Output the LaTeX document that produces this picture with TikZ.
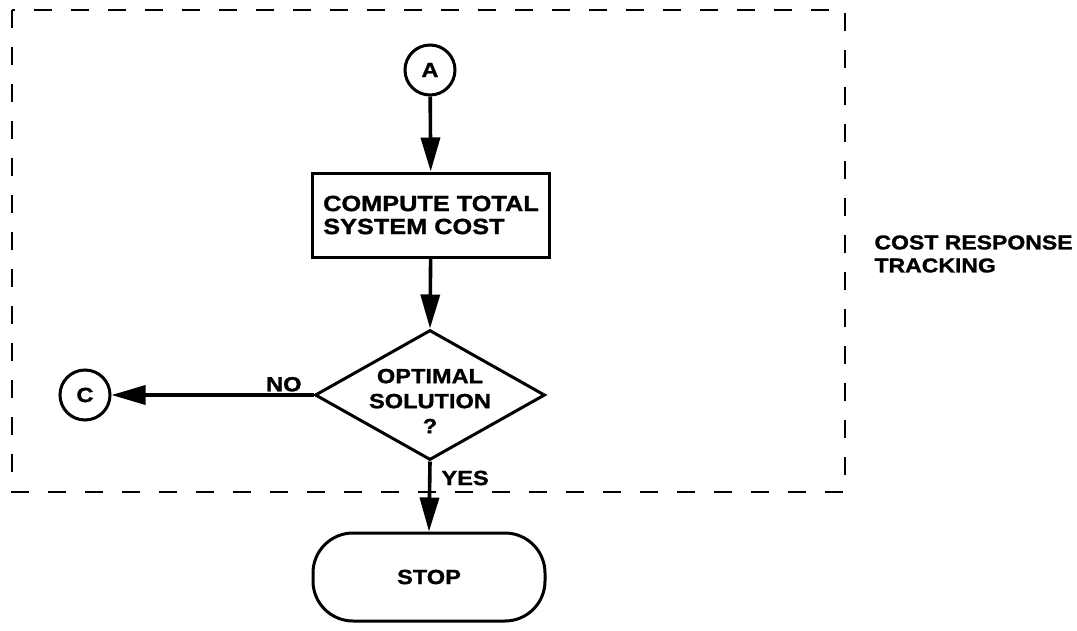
\documentclass[tikz,border=0pt]{standalone}
\usepackage{fontspec}
\setmainfont{Liberation Sans}[FakeStretch=1.15,BoldFeatures={FakeBold=1.3}]
\usetikzlibrary{arrows.meta,shapes.geometric}
\newcommand{\txtsize}[1]{\fontsize{#1}{#1}\selectfont\bfseries}
\begin{document}
\begin{tikzpicture}[x=1pt,y=-1pt,
  font=\txtsize{20.5},
  line width=3pt,
  connector/.style={line width=3.6pt,-{Triangle[length=34pt,width=19pt]}},
  link/.style={circle,draw,minimum size=50pt,inner sep=0pt},
  process/.style={rectangle,draw,minimum width=237pt,minimum height=84pt,align=left,inner sep=0pt,
    font=\txtsize{22},execute at begin node=\setlength{\baselineskip}{23pt}},
  decision/.style={diamond,draw,minimum width=230pt,minimum height=130pt,inner sep=0pt},
  terminal/.style={rectangle,draw,rounded corners=40pt,minimum width=232pt,minimum height=88pt,inner sep=0pt},
  label/.style={inner sep=0pt,align=left}]
\useasboundingbox (0,0) rectangle (1077,630);

% boundary of the cost response tracking block
\draw[line width=2.4pt,dash pattern=on 18pt off 19pt] (12,10) rectangle (845,492);
\node[label,anchor=west,font=\txtsize{20},execute at begin node=\setlength{\baselineskip}{23pt}]
  (block) at (873,254) {COST RESPONSE\\TRACKING};

% flow
\node[link] (a) at (430,70) {A};
\node[process] (cost) at (431,215) {COMPUTE TOTAL\\SYSTEM COST};
\node[decision] (opt) at (430,395) {};
\node[label,align=center,execute at begin node=\setlength{\baselineskip}{25pt}]
  (optq) at (430,401) {OPTIMAL\\SOLUTION\\?};
\node[link] (c) at (85,395) {C};
\node[terminal] (stop) at (429,577) {STOP};

\draw[connector] (a) -- (cost);
\draw[connector] (cost) -- (opt.north);
\draw[connector] (opt.west) -- (c);
\draw[connector] (opt.south) -- (stop.north);

\node[label,anchor=south east] (no) at (303,393) {NO};
\node[label,anchor=west] (yes) at (440,478) {YES};
\end{tikzpicture}
\end{document}
